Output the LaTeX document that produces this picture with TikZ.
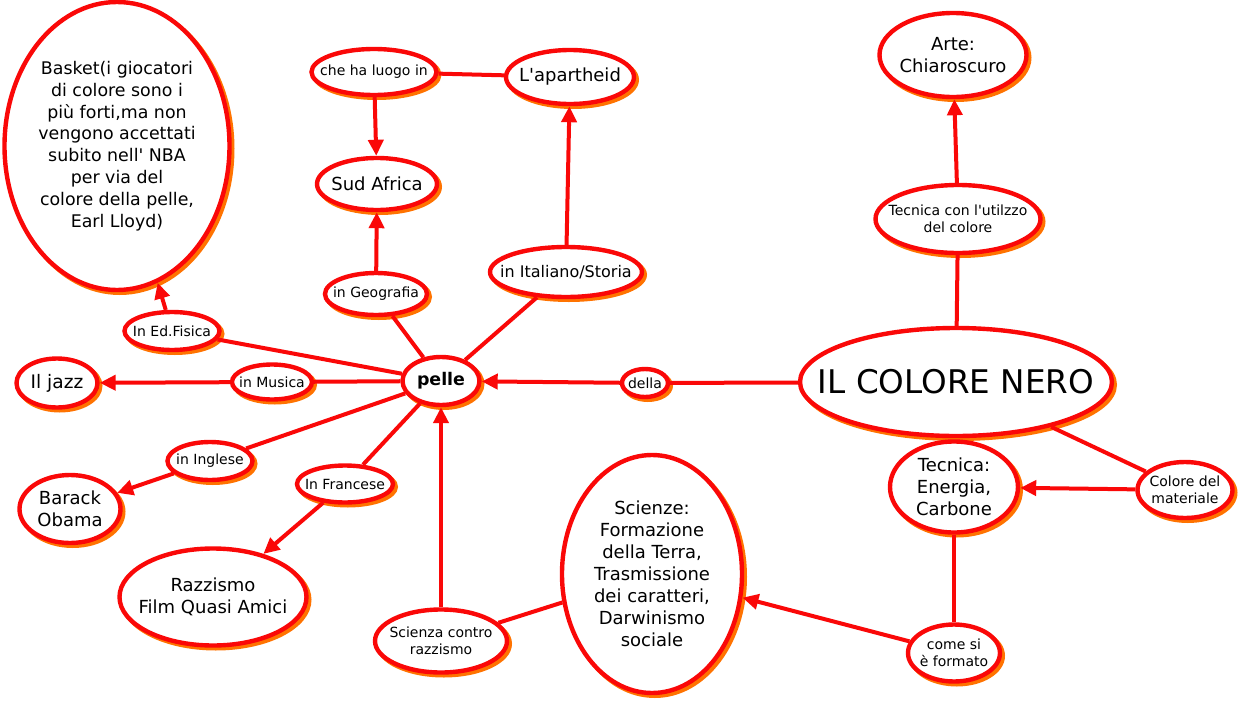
\documentclass[tikz,border=0pt]{standalone}
\usepackage{fontspec}
\setmainfont{DejaVu Sans}[Ligatures=TeXOff]
\usetikzlibrary{shapes.geometric,arrows.meta,shadows}
\definecolor{cmred}{RGB}{250,8,8}
\definecolor{cmshadow}{RGB}{255,115,0}
\tikzset{
  cnode/.style={ellipse, draw=cmred, line width=2.2pt, fill=white, inner sep=-20pt, align=center,
    general shadow={fill=cmshadow, draw=cmshadow, line width=2.2pt, shadow xshift=1.4pt, shadow yshift=-1.4pt}},
  sz/.style 2 args={minimum width=#1*0.5pt, minimum height=#2*0.5pt},
  small/.style={font=\fontsize{7}{8.4}\selectfont},
  mid/.style={font=\fontsize{9}{11}\selectfont},
  link/.style={draw=cmred, line width=2pt},
  arr/.style={link, -{Triangle[length=8pt,width=7.5pt]}},
}
\begin{document}
\begin{tikzpicture}[x=0.5pt,y=-0.5pt]
\useasboundingbox[fill=white] (0,0) rectangle (1239,702);
% nodes
\node[cnode, sz={225}{288}, font=\fontsize{8.7}{10.9}\selectfont] (basket) at (117,146)
  {Basket(i giocatori\\di colore sono i\\più forti,ma non\\vengono accettati\\subito nell' NBA\\per via del\\colore della pelle,\\Earl Lloyd)};
\node[cnode, sz={125}{46}, small] (luogo) at (374,72) {che ha luogo in};
\node[cnode, sz={128}{54}, mid] (apart) at (570,77) {L'apartheid};
\node[cnode, sz={120}{52}, mid] (sud) at (377,184) {Sud Africa};
\node[cnode, sz={102}{42}, small] (geo) at (376,294) {in Geografia};
\node[cnode, sz={152}{50}, font=\fontsize{8}{9.5}\selectfont] (ital) at (566,272) {in Italiano/Storia};
\node[cnode, sz={147}{84}, mid] (arte) at (953,55) {Arte:\\Chiaroscuro};
\node[cnode, sz={165}{68}, small] (tcon) at (958,219) {Tecnica con l'utilzzo\\del colore};
\node[cnode, sz={312}{108}, font=\fontsize{16.3}{19}\selectfont] (nero) at (956,382) {IL COLORE NERO};
\node[cnode, sz={46}{28}, small] (della) at (645,383) {della};
\node[cnode, sz={77}{48}, font=\bfseries\fontsize{8.7}{10}\selectfont] (pelle) at (441,381) {pelle};
\node[cnode, sz={95}{38}, small] (fis) at (172,331) {In Ed.Fisica};
\node[cnode, sz={81}{49}, font=\fontsize{9.3}{11}\selectfont] (jazz) at (57,383) {Il jazz};
\node[cnode, sz={80}{35}, small] (mus) at (272,382) {in Musica};
\node[cnode, sz={85}{38}, small] (ing) at (210,461) {in Inglese};
\node[cnode, sz={101}{68}, mid] (obama) at (70,509) {Barack\\Obama};
\node[cnode, sz={96}{37}, small] (fra) at (345,484) {In Francese};
\node[cnode, sz={187}{97}, mid] (razz) at (213,597) {Razzismo\\Film Quasi Amici};
\node[cnode, sz={132}{63}, small] (scr) at (441,641) {Scienza contro\\razzismo};
\node[cnode, sz={180}{238}, mid] (sci) at (652,574) {Scienze:\\Formazione\\della Terra,\\Trasmissione\\dei caratteri,\\Darwinismo\\sociale};
\node[cnode, sz={128}{91}, mid] (ener) at (954,487) {Tecnica:\\Energia,\\Carbone};
\node[cnode, sz={95}{56}, small] (mat) at (1185,490) {Colore del\\materiale};
\node[cnode, sz={92}{57}, small] (come) at (954,653) {come si\\è formato};
% connectors
\draw[link] (pelle) -- (fis);
\draw[arr] (fis) -- (basket);
\draw[link] (pelle) -- (mus);
\draw[arr] (mus) -- (jazz);
\draw[link] (pelle) -- (ing);
\draw[arr] (ing) -- (obama);
\draw[link] (pelle) -- (fra);
\draw[arr] (fra) -- (razz);
\draw[arr] (scr) -- (pelle);
\draw[link] (sci) -- (scr);
\draw[arr] (come) -- (sci);
\draw[link] (ener) -- (come);
\draw[arr] (mat) -- (ener);
\draw[link] (nero) -- (mat);
\draw[link] (nero) -- (della);
\draw[arr] (della) -- (pelle);
\draw[link] (nero) -- (tcon);
\draw[arr] (tcon) -- (arte);
\draw[link] (pelle) -- (geo);
\draw[arr] (geo) -- (sud);
\draw[link] (pelle) -- (ital);
\draw[arr] (ital) -- (apart);
\draw[link] (apart) -- (luogo);
\draw[arr] (luogo) -- (sud);
\end{tikzpicture}
\end{document}
